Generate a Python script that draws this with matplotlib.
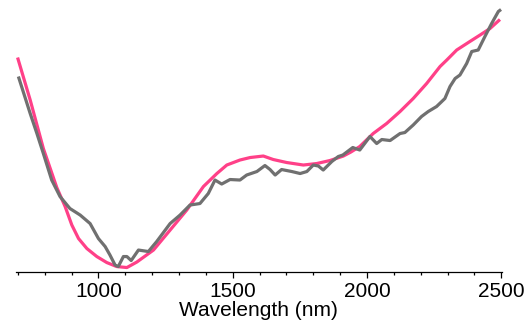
import matplotlib
matplotlib.use('Agg')
import matplotlib.pyplot as plt
from matplotlib.ticker import MultipleLocator

# wavelength (nm) and relative reflectance (arbitrary units)
wl_pink = [699, 746, 795, 845, 876, 901, 926, 957, 994, 1031, 1068, 1106, 1143,
           1205, 1267, 1329, 1391, 1441, 1478, 1527, 1565, 1614, 1651, 1701, 1763,
           1813, 1862, 1912, 1940, 1973, 2023, 2073, 2123, 2172, 2222, 2272, 2297,
           2334, 2383, 2421, 2458, 2495]
refl_pink = [21.4, 17.15, 12.3, 8.4, 6.5, 4.65, 3.3, 2.3, 1.5, 0.9, 0.5, 0.4, 0.95,
             2.15, 4.15, 6.15, 8.5, 9.8, 10.65, 11.15, 11.4, 11.55, 11.2, 10.9, 10.65,
             10.8, 11.1, 11.55, 11.95, 12.5, 13.8, 14.8, 16.0, 17.3, 18.8, 20.5, 21.15,
             22.15, 23.0, 23.65, 24.3, 25.2]

wl_gray = [702, 746, 771, 795, 826, 857, 894, 932, 969, 1000, 1025, 1043, 1062,
           1074, 1093, 1106, 1122, 1149, 1186, 1217, 1267, 1304, 1341, 1378, 1409,
           1434, 1459, 1490, 1527, 1552, 1590, 1620, 1639, 1658, 1682, 1720, 1751,
           1776, 1800, 1819, 1837, 1869, 1893, 1910, 1947, 1973, 2011, 2036, 2055,
           2086, 2123, 2141, 2172, 2203, 2228, 2259, 2290, 2309, 2328, 2346, 2371,
           2390, 2414, 2439, 2464, 2489, 2499]
refl_gray = [19.5, 15.8, 13.8, 11.8, 9.15, 7.5, 6.3, 5.65, 4.8, 3.3, 2.5, 1.65, 0.65,
             0.5, 1.5, 1.5, 1.1, 2.15, 2.0, 3.0, 4.8, 5.65, 6.65, 6.8, 7.8,
             9.15, 8.75, 9.2, 9.15, 9.65, 10.0, 10.6, 10.2, 9.65, 10.2, 10.0, 9.8,
             10.0, 10.65, 10.55, 10.15, 11.0, 11.5, 11.65, 12.4, 12.15, 13.5, 12.8, 13.2,
             13.1, 13.8, 13.9, 14.65, 15.5, 16.0, 16.5, 17.3, 18.5, 19.3, 19.65, 20.8,
             22.0, 22.15, 23.5, 24.8, 26.0, 26.2]

plt.rcParams['font.family'] = ['Liberation Sans', 'DejaVu Sans']

fig = plt.figure(figsize=(5.32, 3.34), dpi=100)
ax = fig.add_axes([0.0295, 0.187, 0.9133, 0.813])

ax.plot(wl_pink, refl_pink, color='#ff4088', lw=2.3, solid_capstyle='butt')
ax.plot(wl_gray, refl_gray, color='#707070', lw=2.3, solid_capstyle='butt')

ax.set_xlim(692, 2501)
ax.set_ylim(0, 27.15)

for s in ['top', 'right', 'left']:
    ax.spines[s].set_visible(False)
ax.spines['bottom'].set_linewidth(0.9)
ax.set_yticks([])

ax.xaxis.set_major_locator(MultipleLocator(500))
ax.xaxis.set_minor_locator(MultipleLocator(100))
ax.tick_params(axis='x', which='major', length=4.2, width=0.9, labelsize=15, pad=3.5)
ax.tick_params(axis='x', which='minor', length=2.3, width=0.9)
ax.set_xlabel('Wavelength (nm)', fontsize=15, labelpad=0)

fig.savefig('out.png', dpi=100)
